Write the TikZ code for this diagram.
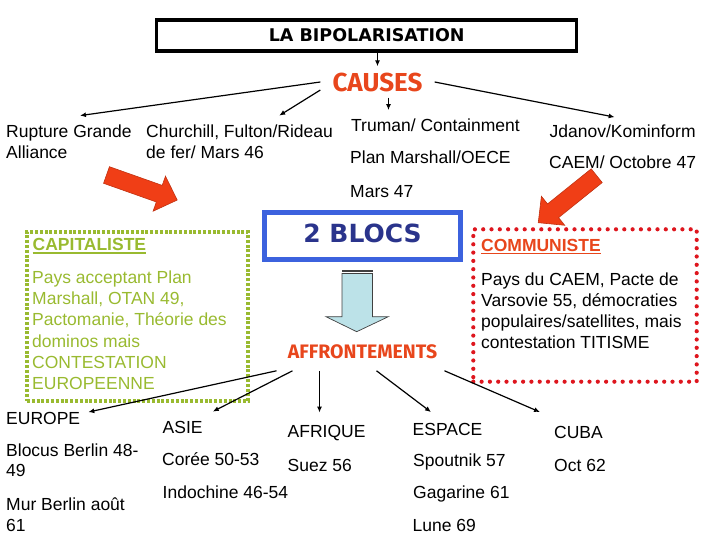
\documentclass[tikz,border=0pt]{standalone}
\usepackage{fontspec}
\setmainfont{Liberation Sans}
\newfontfamily\comicfont{DejaVu Sans}
\newfontfamily\causefont{Fira Sans}
\usetikzlibrary{arrows.meta}

\definecolor{causered}{RGB}{232,70,28}
\definecolor{arrowred}{RGB}{240,62,22}
\definecolor{capgreen}{RGB}{153,186,48}
\definecolor{comred}{RGB}{222,22,30}
\definecolor{blocblue}{RGB}{60,98,222}
\definecolor{blocnavy}{RGB}{42,52,140}
\definecolor{flecheblue}{RGB}{188,226,232}

% souligne epais
\newcommand{\souligne}[1]{\setbox0\hbox{#1}\rlap{\copy0}\rule[-2.6pt]{\wd0}{1.4pt}}

\begin{document}
\begin{tikzpicture}[x=1pt,y=-1pt,
    txt/.style={anchor=base west, inner sep=0pt, align=left,
      font=\fontsize{17.5}{21}\selectfont},
    fl/.style={-{Latex[length=6pt,width=5pt]}, line width=1.2pt},
    grostitre/.style={text=causered, inner xsep=12pt, inner ysep=6pt},
    capframe/.style={draw=capgreen, line width=4pt, dash pattern=on 3pt off 1.8pt, inner sep=0pt},
    comframe/.style={draw=comred, line width=4.2pt, dash pattern=on 0pt off 8.3pt, line cap=round, inner sep=0pt},
    grossefleche/.pic={
      \filldraw[fill=arrowred, draw=arrowred!80!black, line width=0.6pt]
        (0,-8.8) -- (56,-8.8) -- (56,-18.6) -- (75,0) -- (56,18.6) -- (56,8.8) -- (0,8.8) -- cycle;}]
  \useasboundingbox (0,0) rectangle (720,540);
  % --- titre et causes ---
  \node[draw, line width=3.3pt, minimum width=420pt, minimum height=31pt, inner sep=0pt,
        font=\comicfont\bfseries\fontsize{17.5}{20}\selectfont] (titre) at (366.7,35.5) {LA BIPOLARISATION};
  \node[grostitre, font=\causefont\bfseries\fontsize{26}{30}\selectfont] (causes) at (377.5,82) {CAUSES};
  \draw[fl] (causes.north |- titre.south) -- (causes.north);

  % (ancre base = ligne de base de la derniere ligne)
  \node[txt] (rupture) at (6,159) {Rupture Grande\\Alliance};
  \node[txt] (churchill) at (146,159) {Churchill, Fulton/Rideau\\de fer/ Mars 46};
  \node[txt] (truman) at (351,132) {Truman/ Containment};
  \node[txt] (marshall) at (350,164) {Plan Marshall/OECE};
  \node[txt] (mars) at (350,197) {Mars 47};
  \node[txt] (jdanov) at (549.5,138) {Jdanov/Kominform};
  \node[txt] (caem) at (549,169) {CAEM/ Octobre 47};

  \draw[fl] (causes.west) -- ([shift={(11,-9.5)}]rupture.north);
  \draw[fl] (causes.188) -- ([shift={(39.6,-9.5)}]churchill.north);
  \draw[fl, shorten >=9pt] (causes.305) -- (causes.305 |- truman.north);
  \draw[fl] (causes.east) -- ([shift={(-8,-8)}]jdanov.north);

  % --- grosses fleches rouges ---
  \pic[rotate=-19.5] at (106.5,175) {grossefleche};
  \pic[rotate=218.8] at (596.7,175.7) {grossefleche};

  % --- 2 blocs + fleche bleue ---
  \node[draw=blocblue, line width=5pt, minimum width=196pt, minimum height=47pt, inner sep=0pt,
        text=blocnavy, text height=18pt, text depth=6pt,
        font=\comicfont\bfseries\fontsize{25}{28}\selectfont] (blocs) at (362.5,236) {2 BLOCS};
  \filldraw[fill=flecheblue, draw=black!75, line width=0.7pt] (342,270) rectangle (372.5,271.8);
  \filldraw[fill=flecheblue, draw=black!75, line width=0.7pt]
    (342,273.5) -- (372.5,273.5) -- (372.5,316.7) -- (388.3,316.7) -- (356.7,331.7)
    -- (326,316.7) -- (342,316.7) -- cycle;
  \node[grostitre, inner xsep=4pt, inner ysep=11.5pt,
        font=\causefont\bfseries\fontsize{19.5}{22}\selectfont] (affront) at (362.5,352) {AFFRONTEMENTS};

  % --- bloc capitaliste ---
  \node[capframe, minimum width=221pt, minimum height=169pt] (capbox) at (137.5,316.5) {};
  \node[txt, text=capgreen, font=\bfseries\fontsize{17.5}{21}\selectfont] (captitre) at (32.5,251) {\souligne{CAPITALISTE}};
  \node[txt, text=capgreen, font=\fontsize{17.5}{21.3}\selectfont] (captexte) at (32,389.8)
    {Pays acceptant Plan\\Marshall, OTAN 49,\\Pactomanie, Théorie des\\dominos mais\\CONTESTATION\\EUROPEENNE};

  % --- bloc communiste ---
  \node[comframe, minimum width=223.4pt, minimum height=152.4pt] (combox) at (585,305.5) {};
  \node[txt, text=causered, font=\bfseries\fontsize{17.5}{21}\selectfont] (comtitre) at (481,251.5) {\souligne{COMMUNISTE}};
  \node[txt, font=\fontsize{17.5}{21.1}\selectfont] (comtexte) at (481,348.3)
    {Pays du CAEM, Pacte de\\Varsovie 55, démocraties\\populaires/satellites, mais\\contestation TITISME};

  % --- affrontements ---
  \node[txt] (europe) at (6,424.5) {EUROPE};
  \node[txt, font=\fontsize{17.5}{20}\selectfont] (blocus) at (6,476.7) {Blocus Berlin 48-\\49};
  \node[txt, font=\fontsize{17.5}{21.5}\selectfont] (mur) at (6,531.5) {Mur Berlin août\\61};
  \node[txt] (asie) at (162.5,433.3) {ASIE};
  \node[txt] (coree) at (162,465) {Corée 50-53};
  \node[txt] (indochine) at (162.5,498) {Indochine 46-54};
  \node[txt] (afrique) at (287.5,437) {AFRIQUE};
  \node[txt] (suez) at (287.5,471.7) {Suez 56};
  \node[txt] (espace) at (412.5,435) {ESPACE};
  \node[txt] (spoutnik) at (413,466.7) {Spoutnik 57};
  \node[txt] (gagarine) at (413,498.3) {Gagarine 61};
  \node[txt] (lune) at (412.5,531.7) {Lune 69};
  \node[txt] (cuba) at (554,438) {CUBA};
  \node[txt] (oct) at (554,471.7) {Oct 62};

  \draw[fl] ([xshift=-86pt]affront.south) -- ([xshift=8pt]europe.north east);
  \draw[fl] ([xshift=-70pt]affront.south) -- ([shift={(10,-9.3)}]asie.north east);
  \draw[fl, shorten >=12pt] ([xshift=-43pt]affront.south) -- ([xshift=-43pt]affront.south |- afrique.north);
  \draw[fl] ([xshift=14pt]affront.south) -- ([shift={(-16.5,-10.5)}]espace.north);
  \draw[fl] ([xshift=82pt]affront.south) -- ([shift={(-14,-13.5)}]cuba.north west);
\end{tikzpicture}
\end{document}
